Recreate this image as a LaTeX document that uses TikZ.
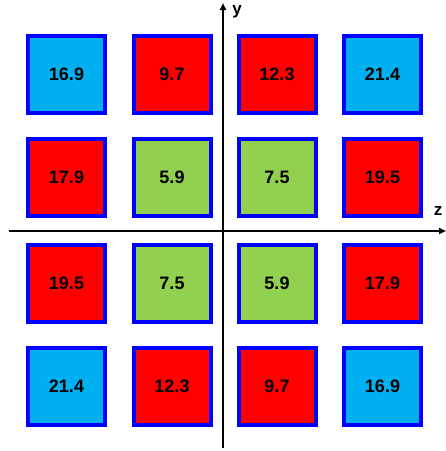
\documentclass[tikz,border=0pt]{standalone}
\usepackage{fontspec}
\setmainfont{Liberation Sans}
\usetikzlibrary{arrows.meta}
\definecolor{cellblue}{HTML}{00B0F0}
\definecolor{cellred}{HTML}{FF0000}
\definecolor{cellgreen}{HTML}{92D050}
\definecolor{frame}{HTML}{0000FF}

\begin{document}
\begin{tikzpicture}[
  x=1pt, y=-1pt,
  cell/.style={rectangle, draw=frame, line width=4pt, minimum size=77pt,
               inner sep=0pt, font=\fontsize{18}{20}\selectfont\bfseries},
  cold/.style={cell, fill=cellblue},
  hot/.style={cell, fill=cellred},
  mild/.style={cell, fill=cellgreen},
  axis/.style={line width=2pt, -{Triangle[length=7pt,width=6pt]}},
  axlabel/.style={font=\fontsize{17}{19}\selectfont\bfseries, inner sep=0pt},
]
  \useasboundingbox (0,0) rectangle (446,451);

  % top row
  \node[cold] (c11) at (66.5,74)  {16.9};
  \node[hot]  (c12) at (172,74)   {9.7};
  \node[hot]  (c13) at (277,74)   {12.3};
  \node[cold] (c14) at (382.5,74) {21.4};
  % second row
  \node[hot]  (c21) at (66.5,177)  {17.9};
  \node[mild] (c22) at (172,177)   {5.9};
  \node[mild] (c23) at (277,177)   {7.5};
  \node[hot]  (c24) at (382.5,177) {19.5};
  % third row
  \node[hot]  (c31) at (66.5,283.5)  {19.5};
  \node[mild] (c32) at (172,283.5)   {7.5};
  \node[mild] (c33) at (277,283.5)   {5.9};
  \node[hot]  (c34) at (382.5,283.5) {17.9};
  % bottom row
  \node[cold] (c41) at (66.5,386.5)  {21.4};
  \node[hot]  (c42) at (172,386.5)   {12.3};
  \node[hot]  (c43) at (277,386.5)   {9.7};
  \node[cold] (c44) at (382.5,386.5) {16.9};

  % axes
  \coordinate (zstart) at (9,231);
  \coordinate (zend)   at (446,231);
  \coordinate (ystart) at (223,448);
  \coordinate (yend)   at (223,3);
  \draw[axis] (zstart) -- (zend);
  \draw[axis] (ystart) -- (yend);
  \node[axlabel] (zlab) at (438,211) {z};
  \node[axlabel] (ylab) at (237,12)  {y};
\end{tikzpicture}
\end{document}
